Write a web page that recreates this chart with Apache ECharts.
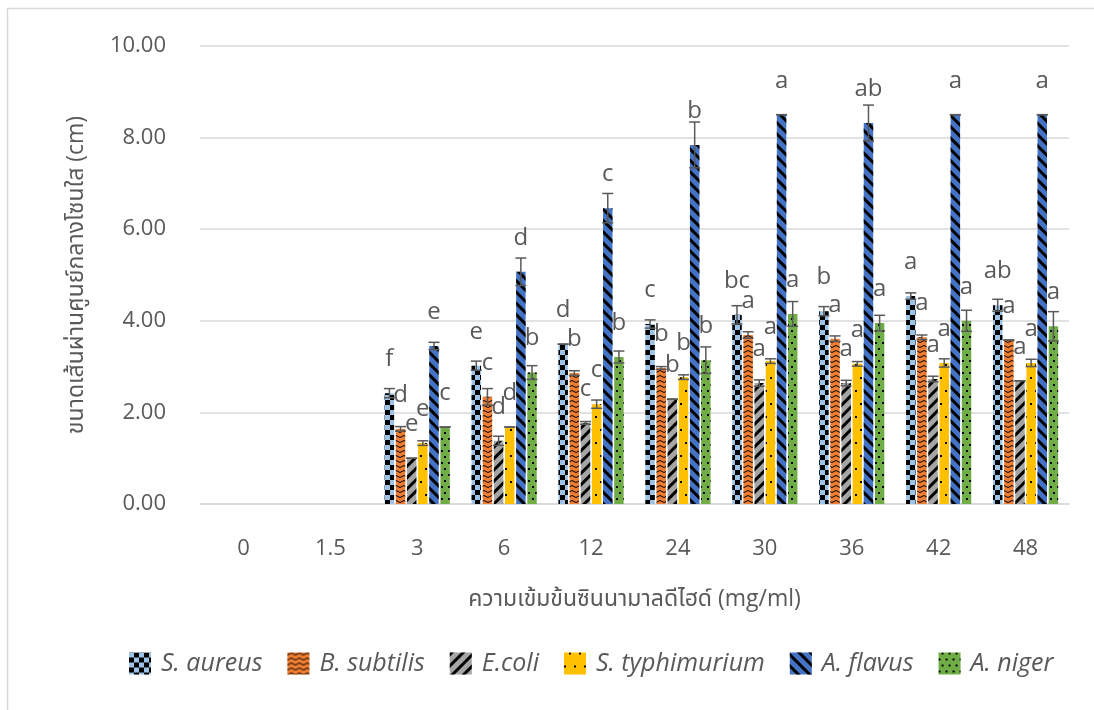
<!DOCTYPE html>
<html>
<head>
<meta charset="utf-8">
<script src="https://cdn.jsdelivr.net/npm/echarts@6/dist/echarts.min.js"></script>
<style>
html,body{margin:0;padding:0;background:#fff;}
#chart{width:1094px;height:710px;}
</style>
</head>
<body>
<div id="chart"></div>
<script>
// ---- data ----
const categories = ['0', '1.5', '3', '6', '12', '24', '30', '36', '42', '48'];
const seriesNames = ['S. aureus', 'B. subtilis', 'E.coli', 'S. typhimurium', 'A. flavus', 'A. niger'];

const sAureus      = [null, null, 2.42, 3.02, 3.49, 3.93, 4.13, 4.21, 4.54, 4.34];
const bSubtilis    = [null, null, 1.64, 2.34, 2.86, 2.97, 3.69, 3.61, 3.64, 3.58];
const eColi        = [null, null, 1.00, 1.38, 1.77, 2.29, 2.64, 2.64, 2.73, 2.69];
const sTyphimurium = [null, null, 1.33, 1.68, 2.18, 2.77, 3.12, 3.06, 3.08, 3.08];
const aFlavus      = [null, null, 3.45, 5.07, 6.46, 7.84, 8.50, 8.32, 8.50, 8.50];
const aNiger       = [null, null, 1.68, 2.87, 3.21, 3.14, 4.15, 3.95, 4.00, 3.88];

const sdAureus      = [0, 0, 0.10, 0.10, 0.00, 0.09, 0.20, 0.10, 0.07, 0.13];
const sdSubtilis    = [0, 0, 0.05, 0.18, 0.05, 0.03, 0.07, 0.06, 0.05, 0.00];
const sdColi        = [0, 0, 0.00, 0.10, 0.03, 0.00, 0.07, 0.06, 0.06, 0.00];
const sdTyphimurium = [0, 0, 0.05, 0.00, 0.09, 0.05, 0.05, 0.05, 0.09, 0.08];
const sdFlavus      = [0, 0, 0.08, 0.30, 0.32, 0.50, 0.00, 0.39, 0.00, 0.00];
const sdNiger       = [0, 0, 0.00, 0.15, 0.13, 0.29, 0.27, 0.17, 0.23, 0.32];

const lettersAureus      = ['', '', 'f', 'e', 'd', 'c', 'bc', 'b', 'a', 'ab'];
const lettersSubtilis    = ['', '', 'd', 'c', 'b', 'b', 'a', 'a', 'a', 'a'];
const lettersColi        = ['', '', 'e', 'd', 'c', 'b', 'a', 'a', 'a', 'a'];
const lettersTyphimurium = ['', '', 'e', 'd', 'c', 'b', 'a', 'a', 'a', 'a'];
const lettersFlavus      = ['', '', 'e', 'd', 'c', 'b', 'a', 'ab', 'a', 'a'];
const lettersNiger       = ['', '', 'c', 'b', 'b', 'b', 'a', 'a', 'a', 'a'];

const yTicks = [0, 2, 4, 6, 8, 10];
// ---- end data ----

const values = [sAureus, bSubtilis, eColi, sTyphimurium, aFlavus, aNiger];
const sds = [sdAureus, sdSubtilis, sdColi, sdTyphimurium, sdFlavus, sdNiger];
const letters = [lettersAureus, lettersSubtilis, lettersColi, lettersTyphimurium, lettersFlavus, lettersNiger];

const colors = ['#9DC3E6', '#ED7D31', '#A5A5A5', '#FFC000', '#4472C4', '#70AD47'];
const decals = [
  { symbol: 'rect', symbolSize: 1, color: '#000', dashArrayX: [[5, 5], [0, 5, 5, 0]], dashArrayY: [5, 0], rotation: 0 },
  { symbol: 'path://M0,4 L4,0 L8,4 L8,6 L4,2 L0,6 Z', symbolSize: 1, symbolKeepAspect: false, color: '#000', dashArrayX: [8, 0], dashArrayY: [3, 2], rotation: 0 },
  { symbol: 'rect', symbolSize: 1, color: '#000', dashArrayX: [1, 0], dashArrayY: [3, 5], rotation: -Math.PI / 4 },
  { symbol: 'rect', symbolSize: 1, color: '#000', dashArrayX: [[2, 8], [0, 5, 2, 3]], dashArrayY: [2, 11], rotation: 0 },
  { symbol: 'rect', symbolSize: 1, color: '#000', dashArrayX: [1, 0], dashArrayY: [3, 5], rotation: Math.PI / 4 },
  { symbol: 'rect', symbolSize: 1, color: '#000', dashArrayX: [[1.6, 4.4], [0, 3, 1.6, 1.4]], dashArrayY: [1.6, 3.4], rotation: 0 }
];

const FONT = "'Open Sans', 'Noto Sans', 'Noto Sans Thai', 'Leelawadee UI', sans-serif";
const TXT = '#595959';
const CAT_GAP = 0.25;
const BAR_GAP = 0.18;
const N = seriesNames.length;

const series = [];
values.forEach((vals, si) => {
  series.push({
    type: 'bar',
    name: seriesNames[si],
    data: vals.map(v => v == null ? '-' : v),
    barCategoryGap: (CAT_GAP * 100) + '%',
    barGap: (BAR_GAP * 100) + '%',
    itemStyle: { color: colors[si], decal: decals[si] },
    label: {
      show: true, position: 'top', distance: 22,
      color: TXT, fontSize: 24, fontFamily: FONT,
      formatter: p => letters[si][p.dataIndex]
    },
    emphasis: { disabled: true }
  });
});
values.forEach((vals, si) => {
  const data = [];
  vals.forEach((v, i) => { if (v != null) data.push([i, v - sds[si][i], v + sds[si][i]]); });
  series.push({
    type: 'custom',
    name: 'err' + si,
    z: 10,
    data: data,
    encode: { x: 0, y: [1, 2] },
    renderItem: (params, api) => {
      const idx = api.value(0);
      const lo = api.coord([idx, api.value(1)]);
      const hi = api.coord([idx, api.value(2)]);
      const band = api.size([1, 0])[0];
      const groupW = band * (1 - CAT_GAP);
      const bw = groupW / (N + (N - 1) * BAR_GAP);
      const x = lo[0] - groupW / 2 + si * bw * (1 + BAR_GAP) + bw / 2;
      const hw = 5.5;
      const st = { stroke: '#595959', lineWidth: 1.5 };
      return {
        type: 'group',
        children: [
          { type: 'line', shape: { x1: x, y1: hi[1], x2: x, y2: lo[1] }, style: st },
          { type: 'line', shape: { x1: x - hw, y1: hi[1], x2: x + hw, y2: hi[1] }, style: st },
          { type: 'line', shape: { x1: x - hw, y1: lo[1], x2: x + hw, y2: lo[1] }, style: st }
        ]
      };
    }
  });
});

const chart = echarts.init(document.getElementById('chart'), null, { renderer: 'canvas' });
chart.setOption({
  animation: false,
  backgroundColor: '#fff',
  textStyle: { fontFamily: FONT },
  graphic: [
    { type: 'line', shape: { x1: 7.5, y1: 8, x2: 7.5, y2: 710 }, style: { stroke: '#D9D9D9', lineWidth: 1.5 } },
    { type: 'line', shape: { x1: 7, y1: 8.5, x2: 1094, y2: 8.5 }, style: { stroke: '#D9D9D9', lineWidth: 1.5 } }
  ],
  grid: { left: 200, right: 25, top: 46, bottom: 206, containLabel: false },
  legend: {
    data: seriesNames,
    top: 646,
    left: 124,
    itemWidth: 22,
    itemHeight: 22,
    itemGap: 25,
    icon: 'rect',
    textStyle: { color: TXT, fontSize: 25, fontStyle: 'italic', fontFamily: FONT, padding: [0, 0, 0, 5] }
  },
  xAxis: {
    type: 'category',
    data: categories,
    axisLine: { lineStyle: { color: '#D9D9D9', width: 1.5 } },
    axisTick: { show: false },
    axisLabel: { color: TXT, fontSize: 22, margin: 34, fontFamily: FONT },
    name: 'ความเข้มข้นซินนามาลดีไฮด์ (mg/ml)',
    nameLocation: 'middle',
    nameGap: 84,
    nameTextStyle: { color: TXT, fontSize: 23, fontFamily: FONT }
  },
  yAxis: {
    type: 'value',
    min: yTicks[0],
    max: yTicks[yTicks.length - 1],
    interval: yTicks[1] - yTicks[0],
    axisLine: { show: false },
    axisTick: { show: false },
    splitLine: { lineStyle: { color: '#D9D9D9', width: 1.5 } },
    axisLabel: { color: TXT, fontSize: 22, margin: 34, fontFamily: FONT, formatter: v => v.toFixed(2) },
    name: 'ขนาดเส้นผ่านศูนย์กลางโซนใส (cm)',
    nameLocation: 'middle',
    nameGap: 112,
    nameRotate: 90,
    nameTextStyle: { color: TXT, fontSize: 23, fontFamily: FONT }
  },
  series: series
});
</script>
</body>
</html>
